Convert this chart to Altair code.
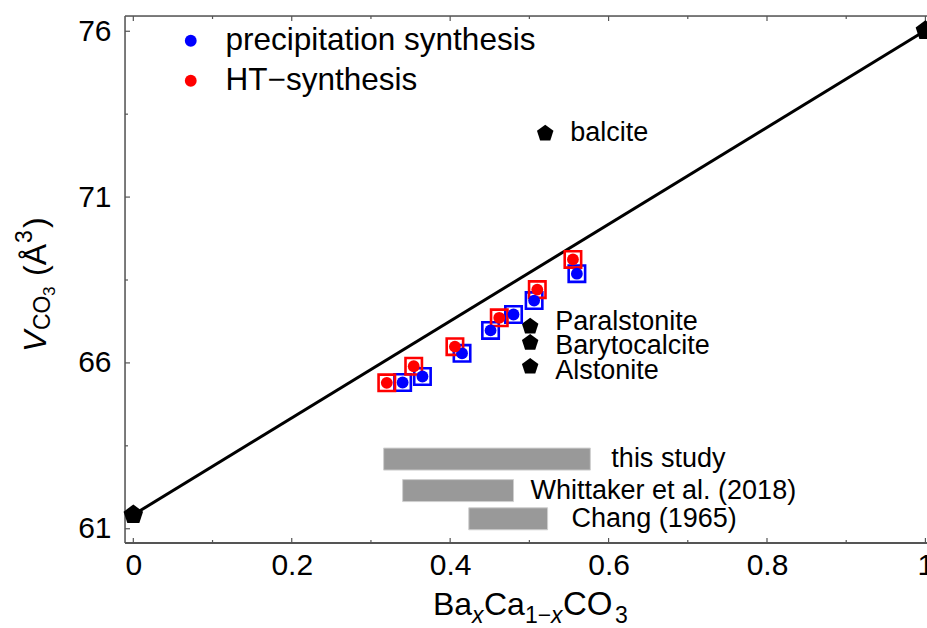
import altair as alt
import pandas as pd

# --- data ---------------------------------------------------------------
# precipitation synthesis: Ba fraction x and volume per CO3 group (A^3)
prec_x = [0.340, 0.365, 0.415, 0.451, 0.480, 0.506, 0.560]
prec_v = [65.41, 65.59, 66.29, 66.98, 67.46, 67.88, 68.69]
# high-temperature synthesis
ht_x = [0.320, 0.354, 0.406, 0.462, 0.510, 0.555]
ht_v = [65.40, 65.90, 66.49, 67.36, 68.21, 69.12]

# end members (calcite, witherite) joined by the Vegard line
end_x = [0.0, 1.0]
end_v = [61.42, 76.02]

# known Ba-Ca carbonate phases
phase_names = ["balcite", "Paralstonite", "Barytocalcite", "Alstonite"]
phase_x = [0.520, 0.501, 0.501, 0.501]
phase_v = [72.92, 67.10, 66.61, 65.89]

# reported composition ranges
range_names = ["this study", "Whittaker et al. (2018)", "Chang (1965)"]
range_lo = [0.316, 0.340, 0.4235]
range_hi = [0.577, 0.480, 0.523]
range_v = [63.10, 62.15, 61.30]

x_major = [0.0, 0.2, 0.4, 0.6, 0.8, 1.0]
x_minor = [0.1, 0.3, 0.5, 0.7, 0.9]
y_major = [61, 66, 71, 76]
y_minor = [63.5, 68.5, 73.5]

methods = ["precipitation synthesis", "HT\u2212synthesis"]
method_colors = ["#0000ff", "#ff0000"]

# --- tables -------------------------------------------------------------
samples = pd.DataFrame({
    "x": prec_x + ht_x,
    "v": prec_v + ht_v,
    "method": [methods[0]] * len(prec_x) + [methods[1]] * len(ht_x),
    "order": [0] * len(prec_x) + [1] * len(ht_x),
})
ends = pd.DataFrame({"x": end_x, "v": end_v})
phases = pd.DataFrame({"name": phase_names, "x": phase_x, "v": phase_v})
ranges = pd.DataFrame({"name": range_names, "lo": range_lo, "hi": range_hi, "v": range_v})

W, H = 802, 527
FONT = "Liberation Sans"
FRAME = "#555"
PENTAGON = "M0,-1L0.951,-0.309L0.588,0.809L-0.588,0.809L-0.951,-0.309Z"

xs = alt.Scale(domain=[-0.0105, 1.002], nice=False, zero=False, padding=0)
ys = alt.Scale(domain=[60.57, 76.46], nice=False, zero=False, padding=0)
col_scale = alt.Scale(domain=methods, range=method_colors)

X = alt.X("x:Q", scale=xs,
          axis=alt.Axis(values=x_major, format="~g", ticks=False, domain=False, grid=False,
                        title=None, labelFontSize=30, labelFont=FONT, labelColor="black",
                        labelPadding=7, labelFlush=False))
Y = alt.Y("v:Q", scale=ys,
          axis=alt.Axis(values=y_major, ticks=False, domain=False, grid=False, title=None,
                        labelFontSize=30, labelFont=FONT, labelColor="black",
                        labelPadding=14, labelFlush=False))

line = alt.Chart(ends).mark_line(color="black", strokeWidth=3).encode(x=X, y=Y)
end_pts = alt.Chart(ends).mark_point(shape=PENTAGON, filled=True, color="black",
                                     size=420, opacity=1).encode(x="x:Q", y="v:Q")

bars = alt.Chart(ranges).mark_bar(size=22, color="#999999", stroke="#cfcfcf",
                                  strokeWidth=1).encode(x="lo:Q", x2="hi:Q", y="v:Q")


def labels_for(df, field, name, dx, dy):
    return alt.Chart(df).mark_text(
        align="left", baseline="middle", dx=dx, dy=dy, fontSize=27, font=FONT, color="black"
    ).encode(x=f"{field}:Q", y="v:Q", text="name:N").transform_filter(
        alt.datum.name == name)


bar_labels = [
    labels_for(ranges, "hi", "this study", 21, 0),
    labels_for(ranges, "hi", "Whittaker et al. (2018)", 17, 0),
    labels_for(ranges, "hi", "Chang (1965)", 24, 0),
]

# open squares around each sample, one layer per synthesis route
sq_prec = alt.Chart(samples).mark_point(shape="square", filled=False, size=270,
                                        strokeWidth=2.6, opacity=1, color=method_colors[0]
                                        ).encode(x="x:Q", y="v:Q").transform_filter(
    alt.datum.order == 0)
sq_ht = alt.Chart(samples).mark_point(shape="square", filled=False, size=270,
                                      strokeWidth=2.6, opacity=1, color=method_colors[1]
                                      ).encode(x="x:Q", y="v:Q").transform_filter(
    alt.datum.order == 1)

dots = alt.Chart(samples).mark_circle(size=140, opacity=1).encode(
    x="x:Q", y="v:Q",
    color=alt.Color("method:N", scale=col_scale, sort=methods,
                    legend=alt.Legend(title=None, orient="none", legendX=50, legendY=9,
                                      labelFontSize=31.5, labelFont=FONT, labelColor="black",
                                      labelLimit=0,
                                      symbolSize=140, symbolType="circle", labelOffset=19,
                                      rowPadding=7, padding=0, symbolStrokeWidth=0,
                                      symbolOpacity=1)),
    order="order:Q")

phase_pts = alt.Chart(phases).mark_point(shape=PENTAGON, filled=True, color="black",
                                         size=300, opacity=1).encode(x="x:Q", y="v:Q")
phase_labels = [
    labels_for(phases, "x", "balcite", 25, 0),
    labels_for(phases, "x", "Paralstonite", 25, -4),
    labels_for(phases, "x", "Barytocalcite", 25, 3),
    labels_for(phases, "x", "Alstonite", 25, 4),
]

# frame on the left, top and bottom (the right side runs off the page)
frame = [
    alt.Chart(one_row := alt.Data(values=[{"k": 0}])).mark_rule(
        color=FRAME, strokeWidth=1.5).encode(x=alt.value(0), y=alt.value(0), y2=alt.value(H)),
    alt.Chart(one_row).mark_rule(color=FRAME, strokeWidth=1.5).encode(
        x=alt.value(0), x2=alt.value(W + 5), y=alt.value(0)),
    alt.Chart(one_row).mark_rule(color=FRAME, strokeWidth=2).encode(
        x=alt.value(0), x2=alt.value(W + 5), y=alt.value(H)),
]


# inward tick marks on the left, top and bottom
def xticks(vals, length):
    d = pd.DataFrame({"x": vals})
    bottom = alt.Chart(d).mark_rule(color=FRAME, strokeWidth=1.2).encode(
        x="x:Q", y=alt.value(H), y2=alt.value(H - length))
    top = alt.Chart(d).mark_rule(color=FRAME, strokeWidth=1.2).encode(
        x="x:Q", y=alt.value(0), y2=alt.value(length))
    return [bottom, top]


def yticks(vals, length):
    d = pd.DataFrame({"v": vals})
    left = alt.Chart(d).mark_rule(color=FRAME, strokeWidth=1.2).encode(
        y="v:Q", x=alt.value(0), x2=alt.value(length))
    return [left]


ticks = xticks(x_major, 5) + xticks(x_minor, 3) + yticks(y_major, 5) + yticks(y_minor, 3)

# axis titles with sub/superscripts, assembled from pieces
one = alt.Data(values=[{"k": 0}])


def piece(txt, px, py, size, italic=False, angle=0):
    return alt.Chart(one).mark_text(
        text=txt, align="left", baseline="alphabetic", fontSize=size, font=FONT,
        fontStyle="italic" if italic else "normal", angle=angle, color="black"
    ).encode(x=alt.value(px - 125), y=alt.value(py - 16))


x_title = [
    piece("Ba", 433, 615, 32),
    piece("x", 472, 623, 23, italic=True),
    piece("Ca", 484, 615, 32),
    piece("1\u2212", 525, 623, 23),
    piece("x", 551, 623, 23, italic=True),
    piece("CO", 563, 615, 33),
    piece("3", 615, 623, 23),
]
y_title = [
    piece("V", 46, 352, 32, italic=True, angle=270),
    piece("CO", 50, 330, 23, angle=270),
    piece("3", 55, 296, 17, angle=270),
    piece("(\u00c5", 46, 276, 32, angle=270),
    piece("3", 32, 243, 23, angle=270),
    piece(")", 46, 228, 32, angle=270),
]

chart = alt.layer(
    line, bars, *bar_labels, *frame, *ticks, end_pts, phase_pts, *phase_labels,
    sq_prec, sq_ht, dots,
    *x_title, *y_title,
).properties(
    width=W, height=H,
    padding={"left": 125, "top": 16, "right": 0, "bottom": 85},
    autosize=alt.AutoSizeParams(type="none"),
).configure_view(
    strokeWidth=0
).configure(background="white")

chart.save("out.html", embed_options={"renderer": "svg", "actions": False})
